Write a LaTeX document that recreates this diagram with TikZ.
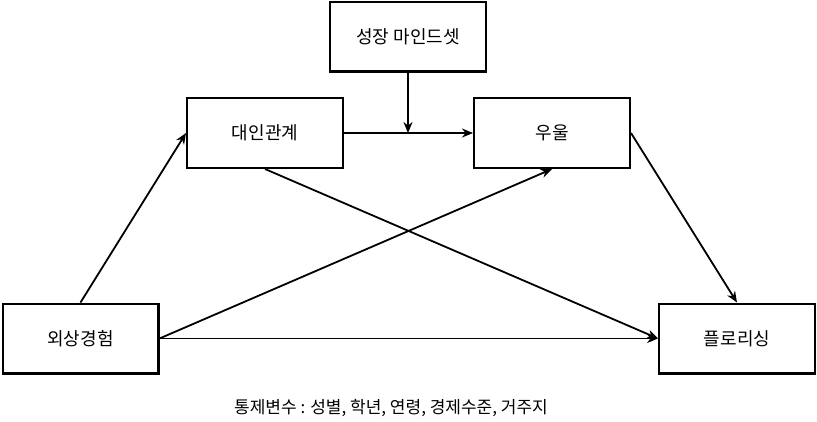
\documentclass[tikz,border=0pt]{standalone}
\usepackage{fontspec}
\setmainfont{Noto Sans CJK KR}
\usetikzlibrary{arrows.meta}
\begin{document}
\begin{tikzpicture}[x=1pt,y=-1pt,
  box/.style={draw, line width=2.4pt, minimum width=155.6pt, minimum height=69.6pt, inner sep=0pt, font=\fontsize{18}{22}\selectfont},
  arr/.style={line width=1.8pt, -{Stealth[length=11pt,width=9pt,inset=3.5pt]}}]
\useasboundingbox (0,0) rectangle (817,421);
\node[box] (gm) at (408,36.5) {성장 마인드셋};
\node[box] (ip) at (265,133) {대인관계};
\node[box] (dep) at (552,133) {우울};
\node[box] (tr) at (80.5,338.5) {외상경험};
\node[box] (fl) at (737,338.5) {플로리싱};
\node[font=\fontsize{17}{20}\selectfont] (cap) at (391,408) {통제변수 : 성별, 학년, 연령, 경제수준, 거주지};
\coordinate (m) at (gm.south |- ip.east);
\draw[arr] (ip.east) -- (dep.west);
\draw[arr] (gm.south) -- (m);
\draw[arr] (tr.north) -- (ip.west);
\draw[arr] (tr.east) -- (dep.south);
\draw[arr] (ip.south) -- (fl.west);
\draw[arr] (tr.east) -- (fl.west);
\draw[arr] (dep.east) -- (fl.north);
\end{tikzpicture}
\end{document}
